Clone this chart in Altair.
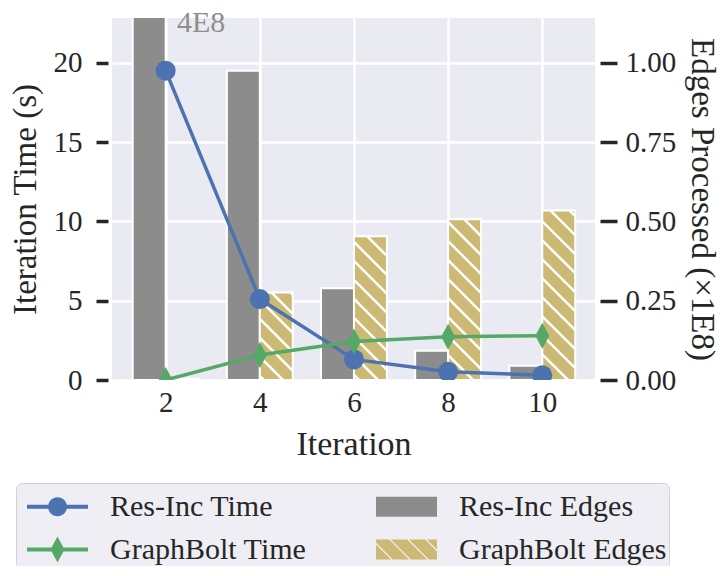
import altair as alt
import numpy as np
import pandas as pd

# ---------------- data ----------------
ITERATIONS = [2, 4, 6, 8, 10]
RESINC_TIME = [19.5, 5.1, 1.3, 0.52, 0.3]
GRAPHBOLT_TIME = [0.0, 1.58, 2.42, 2.73, 2.79]
RESINC_EDGES = [4.0, 0.975, 0.289, 0.092, 0.045]        # x 1E8
GRAPHBOLT_EDGES = [0.004, 0.276, 0.453, 0.507, 0.534]   # x 1E8
SERIES = ["Res-Inc Time", "GraphBolt Time", "Res-Inc Edges", "GraphBolt Edges"]
COLORS = ["#4C72B0", "#55A868", "#8C8C8C", "#CCB974"]
TIME_TICKS = [0, 5, 10, 15, 20]
EDGE_TICKS = [0.0, 0.25, 0.5, 0.75, 1.0]
ANNOTATION = ["4E8"]
X_TITLE = "Iteration"
YL_TITLE = "Iteration Time (s)"
YR_TITLE = "Edges Processed (\u00d71E8)"

# ---------------- style / layout ----------------
FONT = "Liberation Serif"
TXT = "#262626"
W, H = 483, 362
X_DOM = [0.86, 11.12]
T_MAX = 22.82
E_MAX = T_MAX / 20.0
BAR_W = 0.7
ANN_X, ANN_Y = 2.24, 1.097

time_df = pd.DataFrame({
    "iteration": ITERATIONS * 2,
    "time": RESINC_TIME + GRAPHBOLT_TIME,
    "series": [SERIES[0]] * len(ITERATIONS) + [SERIES[1]] * len(ITERATIONS),
})
edge_df = pd.DataFrame({
    "iteration": ITERATIONS * 2,
    "edges": RESINC_EDGES + GRAPHBOLT_EDGES,
    "series": [SERIES[2]] * len(ITERATIONS) + [SERIES[3]] * len(ITERATIONS),
})
edge_df["x0"] = np.where(edge_df["series"] == SERIES[2],
                         edge_df["iteration"] - BAR_W, edge_df["iteration"])
edge_df["x1"] = edge_df["x0"] + BAR_W
edge_df["zero"] = 0.0

# hatch ("\\") segments for the GraphBolt bars, derived from the bar values
PX_X = W / (X_DOM[1] - X_DOM[0])
PX_Y = H / E_MAX
SP = 19.0
hatch = []
for it, v in zip(ITERATIONS, GRAPHBOLT_EDGES):
    a = (it - X_DOM[0]) * PX_X
    b = (it + BAR_W - X_DOM[0]) * PX_X
    top = min(v, E_MAX) * PX_Y
    if top < 2:
        continue
    for k in range(int(np.floor(a / SP)) - 1, int(np.ceil((b + top) / SP)) + 2):
        c = k * SP
        lo, hi = max(a, c - top), min(b, c)
        if hi - lo > 0.5:
            hatch.append({"hx": lo / PX_X + X_DOM[0], "hy": (c - lo) / PX_Y,
                          "hx2": hi / PX_X + X_DOM[0], "hy2": (c - hi) / PX_Y})
hatch_df = pd.DataFrame(hatch)

# ---------------- legend symbols (custom paths, unit = sqrt(size)/2) ----------------
R = 20.5
SYM_STROKE = 2.0
def u(v):
    return f"{v / R:.4f}"
def poly_path(pts):
    return "M" + "L".join(f"{u(px)},{u(py)}" for px, py in pts) + "Z"
def rect_pts(x0, y0, x1, y1):
    return [(x0, y0), (x1, y0), (x1, y1), (x0, y1)]

def clip_poly(pts, x0, y0, x1, y1):
    def edge(p_in, inside, inter):
        out = []
        for i in range(len(p_in)):
            cur, prev = p_in[i], p_in[i - 1]
            if inside(cur):
                if not inside(prev):
                    out.append(inter(prev, cur))
                out.append(cur)
            elif inside(prev):
                out.append(inter(prev, cur))
        return out
    def ix(p, q, xv):
        t = (xv - p[0]) / (q[0] - p[0])
        return (xv, p[1] + t * (q[1] - p[1]))
    def iy(p, q, yv):
        t = (yv - p[1]) / (q[1] - p[1])
        return (p[0] + t * (q[0] - p[0]), yv)
    for inside, inter in [
        (lambda p: p[0] >= x0, lambda p, q: ix(p, q, x0)),
        (lambda p: p[0] <= x1, lambda p, q: ix(p, q, x1)),
        (lambda p: p[1] >= y0, lambda p, q: iy(p, q, y0)),
        (lambda p: p[1] <= y1, lambda p, q: iy(p, q, y1)),
    ]:
        pts = edge(pts, inside, inter)
        if not pts:
            return []
    return pts

LX0, LX1, MC = -12.5, 48.5, 18.0
line_sym = poly_path(rect_pts(LX0, -2, LX1, 2))
circle_pts = [(MC + 9.5 * np.cos(t), 9.5 * np.sin(t)) for t in np.linspace(0, 2 * np.pi, 29)[:-1]]
circle_sym = line_sym + poly_path(circle_pts)
diamond_sym = line_sym + poly_path([(MC, -13), (MC + 7, 0), (MC, 13), (MC - 7, 0)])
BY0, BY1 = -10.0, 10.0
box_sym = poly_path(rect_pts(LX0, BY0, LX1, BY1))
hatch_sym = box_sym
HH = 0.9
for k in range(-3, 6):
    c = LX0 + 6 + k * 18.0
    stripe = [(BY0 - 1 + c - HH, BY0 - 1), (BY0 - 1 + c + HH, BY0 - 1),
              (BY1 + 1 + c + HH, BY1 + 1), (BY1 + 1 + c - HH, BY1 + 1)][::-1]
    clipped = clip_poly(stripe, LX0, BY0, LX1, BY1)
    if len(clipped) >= 3:
        hatch_sym += poly_path(clipped)
LEGEND_SHAPES = [circle_sym, diamond_sym, box_sym, hatch_sym]

PLOT_DIAMOND = "M0,-1.3L0.7,0L0,1.3L-0.7,0Z"

# ---------------- scales / axes ----------------
x_scale = alt.Scale(domain=X_DOM, nice=False, zero=False)
t_scale = alt.Scale(domain=[0, T_MAX], nice=False, zero=False)
e_scale = alt.Scale(domain=[0, E_MAX], nice=False, zero=False)

x_axis = alt.Axis(values=ITERATIONS, grid=True, gridColor="white", gridWidth=2.5,
                  ticks=False, tickSize=0, domain=False, labelAngle=0,
                  labelFont=FONT, labelFontSize=29, labelColor=TXT, labelPadding=8,
                  title=X_TITLE, titleFont=FONT, titleFontSize=34, titleColor=TXT,
                  titleFontWeight="normal", titleBaseline="alphabetic",
                  titleX=W / 2, titleY=74)
t_axis = alt.Axis(orient="left", values=TIME_TICKS, grid=True, gridColor="white",
                  gridWidth=2.5, domain=False, tickSize=12, tickWidth=3.5,
                  tickColor=TXT, offset=4, labelPadding=14, labelFont=FONT,
                  labelFontSize=29, labelColor=TXT, title=YL_TITLE, titleFont=FONT,
                  titleFontSize=33, titleColor=TXT, titleFontWeight="normal",
                  titleAngle=270, titleBaseline="alphabetic", titleAlign="center",
                  titleX=-73, titleY=H / 2)
e_axis = alt.Axis(orient="right", values=EDGE_TICKS, format=".2f", grid=False,
                  domain=False, tickSize=17, tickWidth=3.5, tickColor=TXT, offset=5,
                  labelPadding=8, labelFont=FONT, labelFontSize=29, labelColor=TXT,
                  title=YR_TITLE, titleFont=FONT, titleFontSize=33, titleColor=TXT,
                  titleFontWeight="normal", titleAngle=90, titleBaseline="alphabetic",
                  titleAlign="center", titleX=91, titleY=H / 2)

STROKE_EXPR = ("(datum.value === 'Res-Inc Edges' || datum.value === 'GraphBolt Edges')"
               " ? '#ffffff' : 'transparent'")
legend = alt.Legend(
    title=None, orient="none", legendX=-96, legendY=465, columns=2,
    columnPadding=60, rowPadding=6, padding=2, labelFont=FONT, labelFontSize=30,
    labelColor=TXT, labelOffset=49, labelLimit=0, symbolSize=(2 * R) ** 2,
    symbolOpacity=1, symbolStrokeWidth=SYM_STROKE,
    symbolStrokeColor=alt.ExprRef(STROKE_EXPR),
    fillColor="#EEEEF4", strokeColor="#D2D2D6", cornerRadius=6,
)

# ---------------- layers ----------------
bars = alt.Chart(edge_df).mark_rect(stroke="white", strokeWidth=2, clip=True).encode(
    x=alt.X("x0:Q", scale=x_scale, axis=x_axis),
    x2="x1",
    y=alt.Y("edges:Q", scale=e_scale, axis=e_axis),
    y2="zero",
    fill=alt.Fill("series:N", scale=alt.Scale(domain=[SERIES[2], SERIES[3]],
                                              range=[COLORS[2], COLORS[3]]), legend=None),
)
hatch_layer = alt.Chart(hatch_df).mark_rule(color="white", strokeWidth=2.5, clip=True).encode(
    x=alt.X("hx:Q", scale=x_scale, axis=x_axis),
    x2="hx2",
    y=alt.Y("hy:Q", scale=e_scale, axis=e_axis),
    y2="hy2",
)
annot = alt.Chart(pd.DataFrame({"label": ANNOTATION, "ax": [ANN_X], "ay": [ANN_Y]})).mark_text(
    align="left", baseline="alphabetic", font=FONT, fontSize=30, color="#8E8E8E"
).encode(
    x=alt.X("ax:Q", scale=x_scale, axis=x_axis),
    y=alt.Y("ay:Q", scale=e_scale, axis=e_axis),
    text="label:N",
)
# legend-only layer: four entries drawn off-canvas; the legend carries colour + shape
legend_layer = alt.Chart(pd.DataFrame({"series": SERIES})).mark_point(filled=True).encode(
    x=alt.value(-1000), y=alt.value(-1000),
    color=alt.Color("series:N", scale=alt.Scale(domain=SERIES, range=COLORS), legend=legend),
    shape=alt.Shape("series:N", scale=alt.Scale(domain=SERIES, range=LEGEND_SHAPES), legend=legend),
)
edge_layer = alt.layer(bars, hatch_layer, annot, legend_layer)

lines = alt.Chart(time_df).mark_line(strokeWidth=3.5, clip=True).encode(
    x=alt.X("iteration:Q", scale=x_scale, axis=x_axis),
    y=alt.Y("time:Q", scale=t_scale, axis=t_axis),
    stroke=alt.Stroke("series:N", scale=alt.Scale(domain=[SERIES[0], SERIES[1]],
                                                  range=[COLORS[0], COLORS[1]]), legend=None),
    detail="series:N",
)
points = alt.Chart(time_df).mark_point(filled=True, opacity=1, size=400, clip=True).encode(
    x=alt.X("iteration:Q", scale=x_scale, axis=x_axis),
    y=alt.Y("time:Q", scale=t_scale, axis=t_axis),
    fill=alt.condition("datum.series === 'Res-Inc Time'", alt.value(COLORS[0]), alt.value(COLORS[1])),
    shape=alt.condition("datum.series === 'Res-Inc Time'", alt.value("circle"), alt.value(PLOT_DIAMOND)),
)
time_layer = alt.layer(lines, points)

chart = alt.layer(edge_layer, time_layer).resolve_scale(y="independent").properties(
    width=W, height=H,
    autosize=alt.AutoSizeParams(type="none"),
    padding={"left": 104, "top": 10, "right": 123, "bottom": 186},
).configure(font=FONT).configure_view(fill="#EAEAF2", stroke=None)

chart.save("out.html", embed_options={"renderer": "svg", "actions": False})
